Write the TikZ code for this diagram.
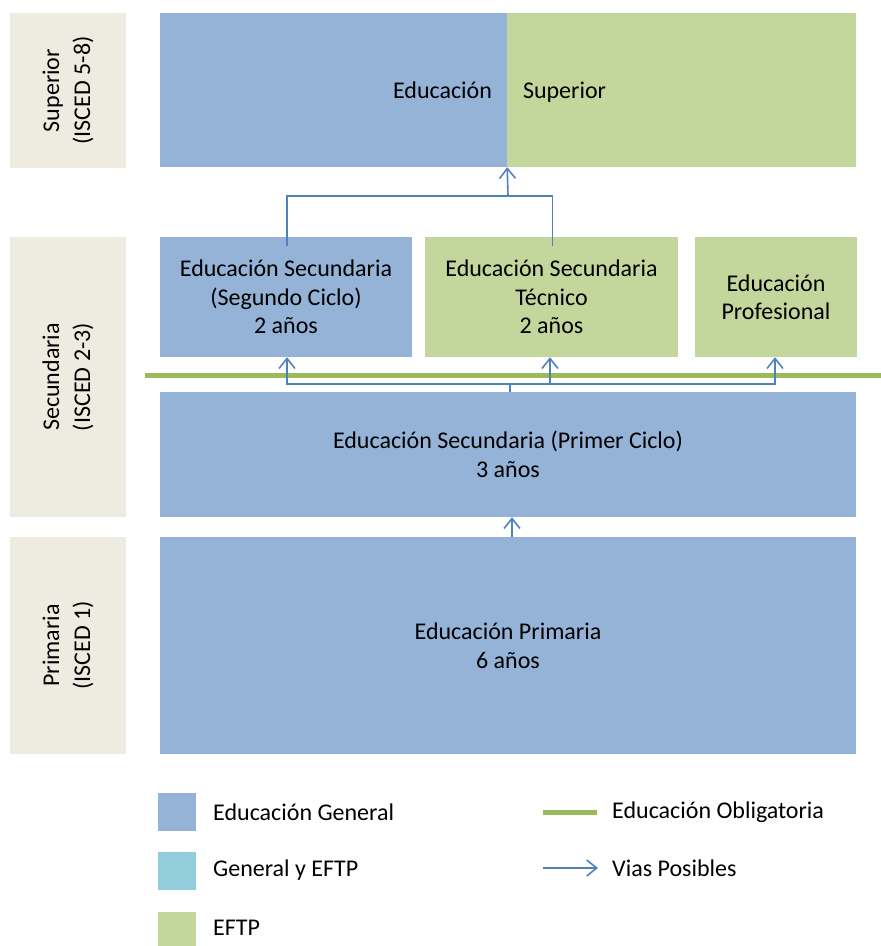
\documentclass[tikz,border=0pt]{standalone}
\usepackage{fontspec}
\setmainfont{Carlito}
\usepackage{tikz}
\usetikzlibrary{arrows.meta}
\definecolor{cgen}{HTML}{95B3D7}
\definecolor{ceftp}{HTML}{C3D69B}
\definecolor{cboth}{HTML}{92CDDC}
\definecolor{clevel}{HTML}{EEECE1}
\definecolor{cobl}{HTML}{9BBB59}
\definecolor{cvia}{HTML}{4F81BD}

\begin{document}
\begin{tikzpicture}[x=1pt,y=-1pt,>={Straight Barb[length=10pt,width=16pt]},
  font=\fontsize{24}{28.5}\selectfont,
  gen node/.style={rectangle,fill=cgen,inner sep=0pt,align=center},
  eftp node/.style={rectangle,fill=ceftp,inner sep=0pt,align=center},
  level node/.style={rectangle,fill=clevel,inner sep=0pt,align=center,rotate=90,
    minimum height=116pt,font=\fontsize{24}{31}\selectfont},
  legend box/.style={rectangle,fill=#1,minimum width=38pt,minimum height=38pt,inner sep=0pt},
  legend text/.style={anchor=west,inner sep=0pt},
  via/.style={cvia,line width=1.6pt},
  obl/.style={cobl,line width=5pt}]
  \useasboundingbox (0,0) rectangle (881,946);

  % niveles
  \node[level node,minimum width=155pt] (sup) at (68,90.5) {Superior\\(ISCED 5-8)};
  \node[level node,minimum width=280pt] (sec) at (68,377) {Secundaria\\(ISCED 2-3)};
  \node[level node,minimum width=217pt] (pri) at (68,645.5) {Primaria\\(ISCED 1)};

  % bloques
  \node[gen node,minimum width=347pt,minimum height=154pt,text width=317pt,align=right,
    text height=20pt,text depth=3pt] (edu) at (333.5,90) {Educación};
  \node[eftp node,minimum width=349pt,minimum height=154pt,text width=317pt,align=left,
    text height=20pt,text depth=3pt] (esup) at (681.5,90) {Superior};
  \node[gen node,minimum width=252pt,minimum height=120pt] (ciclo2) at (286,297)
    {Educación Secundaria\\(Segundo Ciclo)\\2 años};
  \node[eftp node,minimum width=253pt,minimum height=120pt] (tec) at (551.5,297)
    {Educación Secundaria\\Técnico\\2 años};
  \node[eftp node,minimum width=162pt,minimum height=120pt] (prof) at (776,297)
    {Educación\\Profesional};
  \node[gen node,minimum width=696pt,minimum height=125pt] (ciclo1) at (508,454.5)
    {Educación Secundaria (Primer Ciclo)\\3 años};
  \node[gen node,minimum width=696pt,minimum height=217pt] (prim) at (508,645.5)
    {Educación Primaria\\6 años};

  % educacion obligatoria
  \coordinate (o1) at (145,375);
  \coordinate (o2) at (881,375);
  \draw[obl] (o1) -- (o2);

  % vias
  \coordinate (j1) at (508,196);
  \coordinate (j2) at (510,384);
  \draw[via] ([xshift=1pt,yshift=-9pt]ciclo2.north) |- (j1) -| ([xshift=1pt,yshift=-9pt]tec.north);
  \draw[via,->] (j1) -- (edu.south east |- edu.south);
  \draw[via] (ciclo1.north -| j2) -- (j2);
  \draw[via,->] (j2) -| ([xshift=1pt]ciclo2.south);
  \draw[via,->] (j2) -| ([xshift=-1.5pt]tec.south);
  \draw[via,->] (j2) -| ([xshift=-1pt]prof.south);
  \draw[via,->] ([xshift=4pt]prim.north) -- ([xshift=4pt]ciclo1.south);

  % leyenda
  \node[legend box=cgen] (lg1) at (177,812) {};
  \node[legend box=cboth] (lg2) at (177,870.5) {};
  \node[legend box=ceftp] (lg3) at (177,931) {};
  \node[legend text] (tg1) at (213,812) {Educación General};
  \node[legend text] (tg2) at (213,870.5) {General y EFTP};
  \node[legend text] (tg3) at (213,928) {EFTP};
  \coordinate (lo1) at (543,812);
  \coordinate (lo2) at (597,812);
  \draw[obl] (lo1) -- (lo2);
  \node[legend text] (to) at (612,812) {Educación Obligatoria};
  \coordinate (lv1) at (543,868);
  \coordinate (lv2) at (598,868);
  \draw[via,->] (lv1) -- (lv2);
  \node[legend text] (tv) at (612,868) {Vias Posibles};
\end{tikzpicture}
\end{document}
